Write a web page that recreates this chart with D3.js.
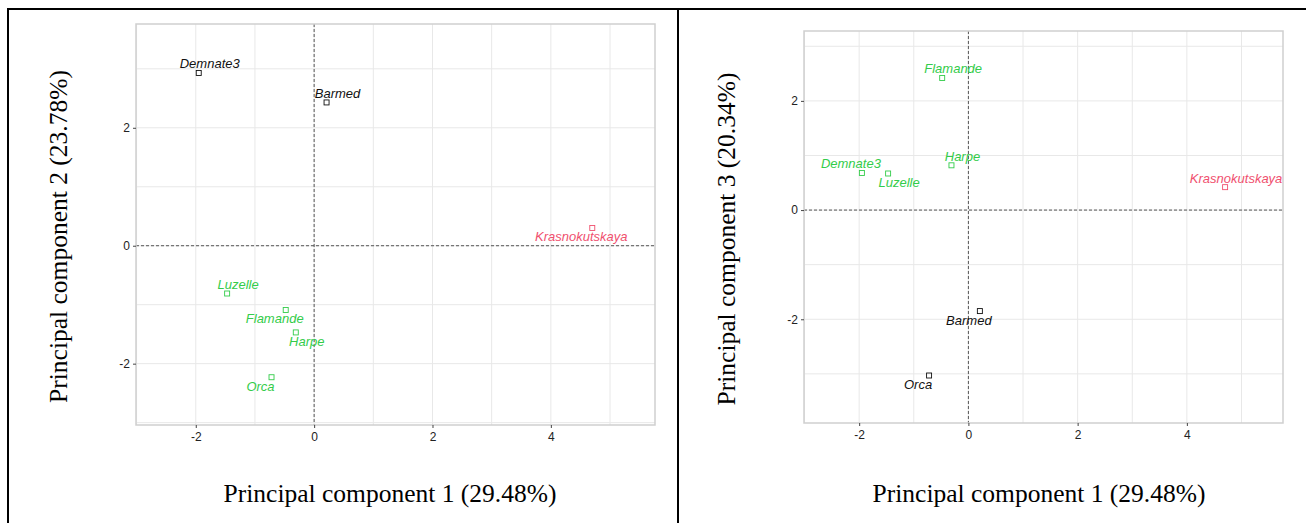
<!DOCTYPE html>
<html>
<head>
<meta charset="utf-8">
<script src="https://cdn.jsdelivr.net/npm/d3@7"></script>
<style>
  html, body { margin: 0; padding: 0; background: #fff; }
  svg { display: block; }
</style>
</head>
<body>
<svg id="chart" width="1306" height="523"></svg>
<script>
// Cultivar scores on the first three principal components
const cultivars = ["Demnate3", "Barmed", "Krasnokutskaya", "Luzelle", "Flamande", "Harpe", "Orca"];
const pc1 = [-1.95, 0.21, 4.70, -1.47, -0.48, -0.31, -0.72];
const pc2 = [2.93, 2.43, 0.30, -0.81, -1.09, -1.47, -2.23];
const pc3 = [0.68, -1.85, 0.42, 0.67, 2.42, 0.82, -3.03];

// Cluster membership in each projection
const clusterPc12 = ["A", "A", "B", "C", "C", "C", "C"];
const clusterPc13 = ["C", "A", "B", "C", "C", "C", "A"];

const xTicks = [-2, 0, 2, 4];
const yTicks = [-2, 0, 2];
const xLabel = "Principal component 1 (29.48%)";
const yLabel12 = "Principal component 2 (23.78%)";
const yLabel13 = "Principal component 3 (20.34%)";

const clusterColor = { A: "#111111", B: "#f0506e", C: "#33cc4a" };

// Label placement side for each cultivar (horizontal, vertical)
const labelSide12 = {
  Demnate3: [1, -1], Barmed: [1, -1], Krasnokutskaya: [-1, 1], Luzelle: [1, -1],
  Flamande: [-1, 1], Harpe: [1, 1], Orca: [-1, 1]
};
const labelSide13 = {
  Demnate3: [-1, -1], Barmed: [-1, 1], Krasnokutskaya: [1, -1], Luzelle: [1, 1],
  Flamande: [1, -1], Harpe: [1, -1], Orca: [-1, 1]
};

const svg = d3.select("#chart");
const tickFmt = d => String(d); // plain hyphen-minus, as in the printed figure

// Outer table frame
const frame = svg.append("g").attr("stroke", "#000").attr("stroke-width", 2);
frame.append("line").attr("x1", 7).attr("x2", 1306).attr("y1", 9).attr("y2", 9);
frame.append("line").attr("x1", 8).attr("x2", 8).attr("y1", 8).attr("y2", 523);
frame.append("line").attr("x1", 678).attr("x2", 678).attr("y1", 8).attr("y2", 523);

function panel(opts) {
  const { left, right, top, bottom, xDomain, yDomain, ys, groups, sides, yTitle, xTitleX, yTitleX } = opts;
  const x = d3.scaleLinear().domain(xDomain).range([left, right]);
  const y = d3.scaleLinear().domain(yDomain).range([bottom, top]);
  const g = svg.append("g");

  const clip = "clip" + Math.round(left);
  svg.append("clipPath").attr("id", clip)
    .append("rect").attr("x", left).attr("y", top).attr("width", right - left).attr("height", bottom - top);

  // minor + major grid
  const minorX = d3.range(Math.ceil(xDomain[0]), Math.floor(xDomain[1]) + 1).filter(v => !xTicks.includes(v));
  const minorY = d3.range(Math.ceil(yDomain[0]), Math.floor(yDomain[1]) + 1).filter(v => !yTicks.includes(v));
  const grid = g.append("g").attr("clip-path", `url(#${clip})`);
  grid.selectAll(".gx").data(minorX.concat(xTicks)).join("line")
    .attr("x1", d => x(d)).attr("x2", d => x(d)).attr("y1", top).attr("y2", bottom)
    .attr("stroke", "#e8e8e8").attr("stroke-width", 1);
  grid.selectAll(".gy").data(minorY.concat(yTicks)).join("line")
    .attr("x1", left).attr("x2", right).attr("y1", d => y(d)).attr("y2", d => y(d))
    .attr("stroke", "#e8e8e8").attr("stroke-width", 1);

  // reference lines through the origin
  g.append("line").attr("x1", left).attr("x2", right).attr("y1", y(0)).attr("y2", y(0))
    .attr("stroke", "#555").attr("stroke-width", 1).attr("stroke-dasharray", "3,2");
  g.append("line").attr("x1", x(0)).attr("x2", x(0)).attr("y1", top).attr("y2", bottom)
    .attr("stroke", "#555").attr("stroke-width", 1).attr("stroke-dasharray", "3,2");

  // panel border
  g.append("rect").attr("x", left).attr("y", top).attr("width", right - left).attr("height", bottom - top)
    .attr("fill", "none").attr("stroke", "#cfcfcf").attr("stroke-width", 1.5);

  // axes
  const xAxis = g.append("g").attr("transform", `translate(0,${bottom})`)
    .call(d3.axisBottom(x).tickValues(xTicks).tickSize(3).tickPadding(4).tickFormat(tickFmt));
  const yAxis = g.append("g").attr("transform", `translate(${left},0)`)
    .call(d3.axisLeft(y).tickValues(yTicks).tickSize(3).tickPadding(3).tickFormat(tickFmt));
  [xAxis, yAxis].forEach(a => {
    a.select(".domain").remove();
    a.selectAll(".tick line").attr("stroke", "#444");
    a.selectAll(".tick text").attr("fill", "#222")
      .style("font-family", "'Liberation Sans', Arial, sans-serif").style("font-size", "12px");
  });

  // points and labels
  const pts = cultivars.map((name, i) => ({ name, px: pc1[i], py: ys[i], grp: groups[i] }));
  g.selectAll(".pt").data(pts).join("rect")
    .attr("x", d => x(d.px) - 2.5).attr("y", d => y(d.py) - 2.5)
    .attr("width", 5).attr("height", 5)
    .attr("fill", "none").attr("stroke", d => clusterColor[d.grp]).attr("stroke-width", 0.9);
  g.selectAll(".lab").data(pts).join("text")
    .attr("x", d => x(d.px) + sides[d.name][0] * 11)
    .attr("y", d => y(d.py) + (sides[d.name][1] < 0 ? -8 : 10))
    .attr("text-anchor", "middle").attr("dominant-baseline", "middle")
    .style("font-family", "'Liberation Sans', Arial, sans-serif").style("font-size", "13px")
    .style("font-style", "italic")
    .attr("fill", d => clusterColor[d.grp])
    .text(d => d.name);

  // axis titles
  const serif = "'Liberation Serif', 'Times New Roman', serif";
  g.append("text").attr("x", xTitleX).attr("y", 502).attr("text-anchor", "middle")
    .style("font-family", serif).style("font-size", "25.5px").attr("fill", "#000").text(xLabel);
  g.append("text").attr("transform", `translate(${yTitleX},${(top + bottom) / 2 + 12}) rotate(-90)`)
    .attr("text-anchor", "middle")
    .style("font-family", serif).style("font-size", "25.5px").attr("fill", "#000").text(yTitle);
}

panel({
  left: 136, right: 655, top: 24, bottom: 425,
  xDomain: [-3.01, 5.76], yDomain: [-3.04, 3.76],
  ys: pc2, groups: clusterPc12, sides: labelSide12, yTitle: yLabel12,
  xTitleX: 390, yTitleX: 67
});
panel({
  left: 804, right: 1283, top: 31, bottom: 423,
  xDomain: [-3.01, 5.76], yDomain: [-3.9, 3.28],
  ys: pc3, groups: clusterPc13, sides: labelSide13, yTitle: yLabel13,
  xTitleX: 1039, yTitleX: 735
});
</script>
</body>
</html>
